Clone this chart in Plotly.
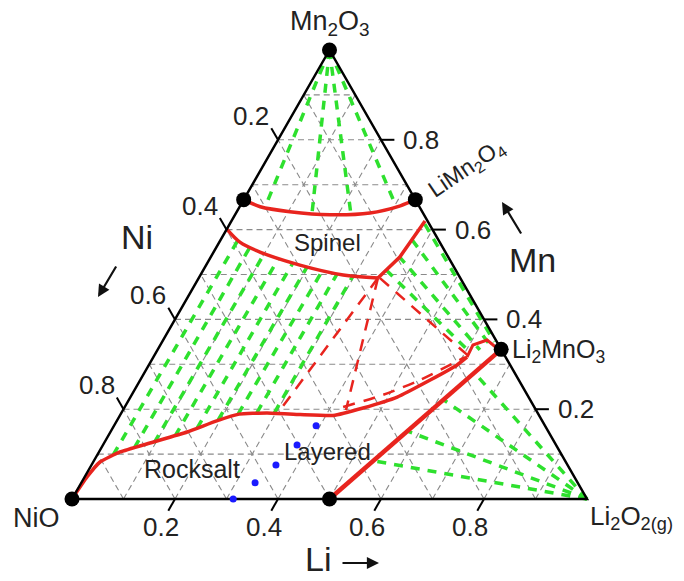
import plotly.graph_objects as go

# Compositions are cation fractions (Li, Mn); Ni = 1 - Li - Mn.

# Marked compounds: NiO, Mn2O3, NiMn2O4, LiMn2O4, Li2MnO3, LiNiO2
point_li = [0.0, 0.0, 0.0, 1 / 3, 2 / 3, 0.5]
point_mn = [0.0, 1.0, 2 / 3, 2 / 3, 1 / 3, 0.0]

# Spinel field, upper boundary (NiMn2O4 -> LiMn2O4)
spinel_top_li = [0.0, 0.04, 0.103, 0.185, 0.26, 0.311, 1 / 3]
spinel_top_mn = [2 / 3, 0.651, 0.640, 0.633, 0.637, 0.653, 2 / 3]

# Spinel field, lower boundary (curved part, then rising branch)
spinel_low_li = [0.0, 0.04, 0.09, 0.182, 0.277, 0.348]
spinel_low_mn = [0.601, 0.572, 0.550, 0.521, 0.499, 0.492]
spinel_rise_li = [0.348, 0.367, 0.376]
spinel_rise_mn = [0.492, 0.539, 0.619]

# Rocksalt / layered boundary from NiO, then the kink into Li2MnO3
rocksalt_li = [0.0, 0.0046, 0.0132, 0.041, 0.089, 0.149, 0.194, 0.230, 0.283,
               0.349, 0.414, 0.464, 0.518, 0.563, 0.598, 0.609]
rocksalt_mn = [0.0, 0.049, 0.0824, 0.1047, 0.1247, 0.1492, 0.174, 0.189, 0.1915,
               0.188, 0.186, 0.2027, 0.227, 0.265, 0.298, 0.316]
kink_li = [0.609, 0.607, 0.629, 0.657, 2 / 3]
kink_mn = [0.316, 0.343, 0.354, 0.336, 1 / 3]

# LiNiO2 - Li2MnO3 join
join_li = [0.5, 2 / 3]
join_mn = [0.0, 1 / 3]

# Dashed phase boundaries
dash1_li = [0.348, 0.433]
dash1_mn = [0.492, 0.198]
dash2_li = [0.348, 0.304]
dash2_mn = [0.492, 0.1915]
dash3_li = [0.352, 0.607]
dash3_mn = [0.492, 0.321]
dash4_li = [0.424, 0.488, 0.543, 0.605]
dash4_mn = [0.205, 0.232, 0.265, 0.316]

# Tie lines: Mn2O3 apex -> spinel upper boundary
top_tie_li = [0.05, 0.148, 0.224, 0.305]
top_tie_mn = [0.649, 0.636, 0.635, 0.650]

# Tie lines: rocksalt boundary -> spinel lower boundary
left_tie_li_low = [0.031, 0.064, 0.097, 0.130, 0.164, 0.196, 0.228, 0.263, 0.297]
left_tie_mn_low = [0.098, 0.114, 0.125, 0.140, 0.158, 0.176, 0.189, 0.192, 0.192]
left_tie_li_high = [0.034, 0.065, 0.100, 0.133, 0.166, 0.198, 0.232, 0.264, 0.297]
left_tie_mn_high = [0.577, 0.561, 0.546, 0.535, 0.526, 0.517, 0.508, 0.501, 0.497]

# Tie lines: spinel rising branch -> Li2MnO3 side
right_tie_li_high = [0.379, 0.372, 0.364, 0.355]
right_tie_mn_high = [0.612, 0.577, 0.541, 0.510]
right_tie_li_low = [0.645, 0.640, 0.626, 0.609]
right_tie_mn_low = [0.350, 0.343, 0.332, 0.327]

# Tie lines: Li2O2 corner -> LiNiO2-Li2MnO3 join
corner_tie_li = [0.543, 0.576, 0.611, 0.641]
corner_tie_mn = [0.085, 0.151, 0.221, 0.281]

# Measured compositions
sample_li = [0.313, 0.3375, 0.358, 0.377, 0.3925]
sample_mn = [0.0, 0.036, 0.076, 0.120, 0.163]

# Axis ticks and grid
tick_vals = [0.2, 0.4, 0.6, 0.8]
tick_text = ["0.2", "0.4", "0.6", "0.8"]
grid_vals = [0.1, 0.2, 0.3, 0.4, 0.5, 0.6, 0.7, 0.8, 0.9]

RED = "#e8241e"
GREEN = "#2ee02e"
FONT = "Liberation Sans, Arial, sans-serif"
TXT = "#222222"


def xy(li, mn):
    """Ternary (Li, Mn) -> plane coordinates (Li + Mn/2, Mn)."""
    return li + mn / 2.0, mn


fig = go.Figure()


def line(li, mn, color, width, dash="solid", shape="linear", smoothing=0.8):
    xs = [l + m / 2.0 for l, m in zip(li, mn)]
    fig.add_trace(go.Scatter(
        x=xs, y=list(mn), mode="lines",
        line=dict(color=color, width=width, dash=dash, shape=shape, smoothing=smoothing),
        hoverinfo="skip", showlegend=False))


# grey dashed grid in all three directions
GRID = "#8a8a8a"
for g in grid_vals:
    line([g, g], [0.0, 1.0 - g], GRID, 1.1, "6px,4px")          # const Li
    line([0.0, 1.0 - g], [g, g], GRID, 1.1, "6px,4px")          # const Mn
    line([1.0 - g, 0.0], [0.0, 1.0 - g], GRID, 1.1, "6px,4px")  # const Ni

GDASH = "9px,8px"
# tie lines
for l, m in zip(top_tie_li, top_tie_mn):
    line([0.0, l], [1.0, m], GREEN, 3.5, GDASH)
for a, b, c, d in zip(left_tie_li_low, left_tie_mn_low, left_tie_li_high, left_tie_mn_high):
    line([a, c], [b, d], GREEN, 3.5, GDASH)
for a, b, c, d in zip(right_tie_li_high, right_tie_mn_high, right_tie_li_low, right_tie_mn_low):
    line([a, c], [b, d], GREEN, 3.5, GDASH)
for l, m in zip(corner_tie_li, corner_tie_mn):
    line([1.0, l], [0.0, m], GREEN, 3.5, GDASH)

# dashed red boundaries
RDASH = "12px,9px"
line(dash1_li, dash1_mn, RED, 2.5, RDASH)
line(dash2_li, dash2_mn, RED, 2.5, RDASH)
line(dash3_li, dash3_mn, RED, 2.5, RDASH)
line(dash4_li, dash4_mn, RED, 2.5, RDASH, "spline")

# solid red boundaries
line(spinel_top_li, spinel_top_mn, RED, 3.5, shape="spline")
line(spinel_low_li, spinel_low_mn, RED, 3.5, shape="spline")
line(spinel_rise_li, spinel_rise_mn, RED, 3.5)
line(rocksalt_li, rocksalt_mn, RED, 3.5, shape="spline", smoothing=0.4)
line(kink_li, kink_mn, RED, 3.0)
line(join_li, join_mn, RED, 4.5)

# triangle frame
line([0.0, 1.0, 0.0, 0.0], [0.0, 0.0, 1.0, 0.0], "black", 2.5)

# tick marks
TL = 0.026
for t in tick_vals:
    line([t, t], [0.0, -TL], "black", 2)                      # Li (bottom)
    line([0.0, -TL], [1.0 - t, 1.0 - t + TL], "black", 2)     # Ni (left)
    line([1.0 - t, 1.0 - t + TL], [t, t], "black", 2)         # Mn (right)

# marked compounds
px, py = zip(*[xy(l, m) for l, m in zip(point_li, point_mn)])
fig.add_trace(go.Scatter(x=px, y=py, mode="markers",
                         marker=dict(color="black", size=15),
                         hoverinfo="skip", showlegend=False))
sx, sy = zip(*[xy(l, m) for l, m in zip(sample_li, sample_mn)])
fig.add_trace(go.Scatter(x=sx, y=sy, mode="markers",
                         marker=dict(color="#1a1aff", size=7),
                         hoverinfo="skip", showlegend=False))

ann = []


def text(li, mn, s, size, xanchor="center", yanchor="middle", dx=0, dy=0, angle=0):
    x, y = xy(li, mn)
    ann.append(dict(x=x, y=y, xref="x", yref="y", text=s, showarrow=False,
                    xanchor=xanchor, yanchor=yanchor, xshift=dx, yshift=dy,
                    textangle=angle, font=dict(family=FONT, size=size, color=TXT)))


for v, s in zip(tick_vals, tick_text):
    text(0.0, 1.0 - v, s, 26, dx=-27, dy=24)          # Ni on the left side
    text(v, 0.0, s, 26, dx=-14, dy=-28)               # Li along the bottom
    text(1.0 - v, v, s, 26, xanchor="left", dx=20)    # Mn on the right side

# compound labels
text(0.0, 1.0, "Mn<sub>2</sub>O<sub>3</sub>", 27, dy=27)
text(0.0, 0.0, "NiO", 27, dx=-36, dy=-19)
text(1.0, 0.0, "Li<sub>2</sub>O<sub>2(g)</sub>", 26, xanchor="left", dx=1, dy=-18)
text(2 / 3, 1 / 3, "Li<sub>2</sub>MnO<sub>3</sub>", 25, xanchor="left", dx=9, dy=-2)
text(1 / 3, 2 / 3, "LiMn<sub>2</sub>O<sub>4</sub>", 23, dx=52, dy=31, angle=-34)

# field labels
text(0.211, 0.572, "Spinel", 24)
text(0.443, 0.1047, "Layered", 24)
text(0.200, 0.0668, "Rocksalt", 25)

# axis names with direction arrows (paper coordinates)
W, H = 684.0, 581.0
for s, cx, cy in [("Ni", 137, 237), ("Mn", 532, 260), ("Li", 318, 559)]:
    ann.append(dict(x=cx / W, y=1 - cy / H, xref="paper", yref="paper", text=s,
                    xanchor="center", yanchor="middle",
                    showarrow=False, font=dict(family=FONT, size=34, color=TXT)))
for hx, hy, ax, ay in [(98, 297, 19, -32), (502, 202, 20, 33), (379, 563, -38, 0)]:
    ann.append(dict(x=hx / W, y=1 - hy / H, xref="paper", yref="paper", text="",
                    showarrow=True, ax=ax, ay=ay, arrowhead=2, arrowsize=1.1,
                    arrowwidth=2.2, arrowcolor="#111111"))

fig.update_layout(
    width=684, height=581,
    margin=dict(l=0, r=0, t=0, b=0),
    paper_bgcolor="white", plot_bgcolor="white",
    xaxis=dict(visible=False, range=[-72 / 515, 612 / 515], fixedrange=True),
    yaxis=dict(visible=False, range=[-82 / 449, 499 / 449], fixedrange=True),
    annotations=ann,
    showlegend=False,
)

fig.write_html("out.html")
